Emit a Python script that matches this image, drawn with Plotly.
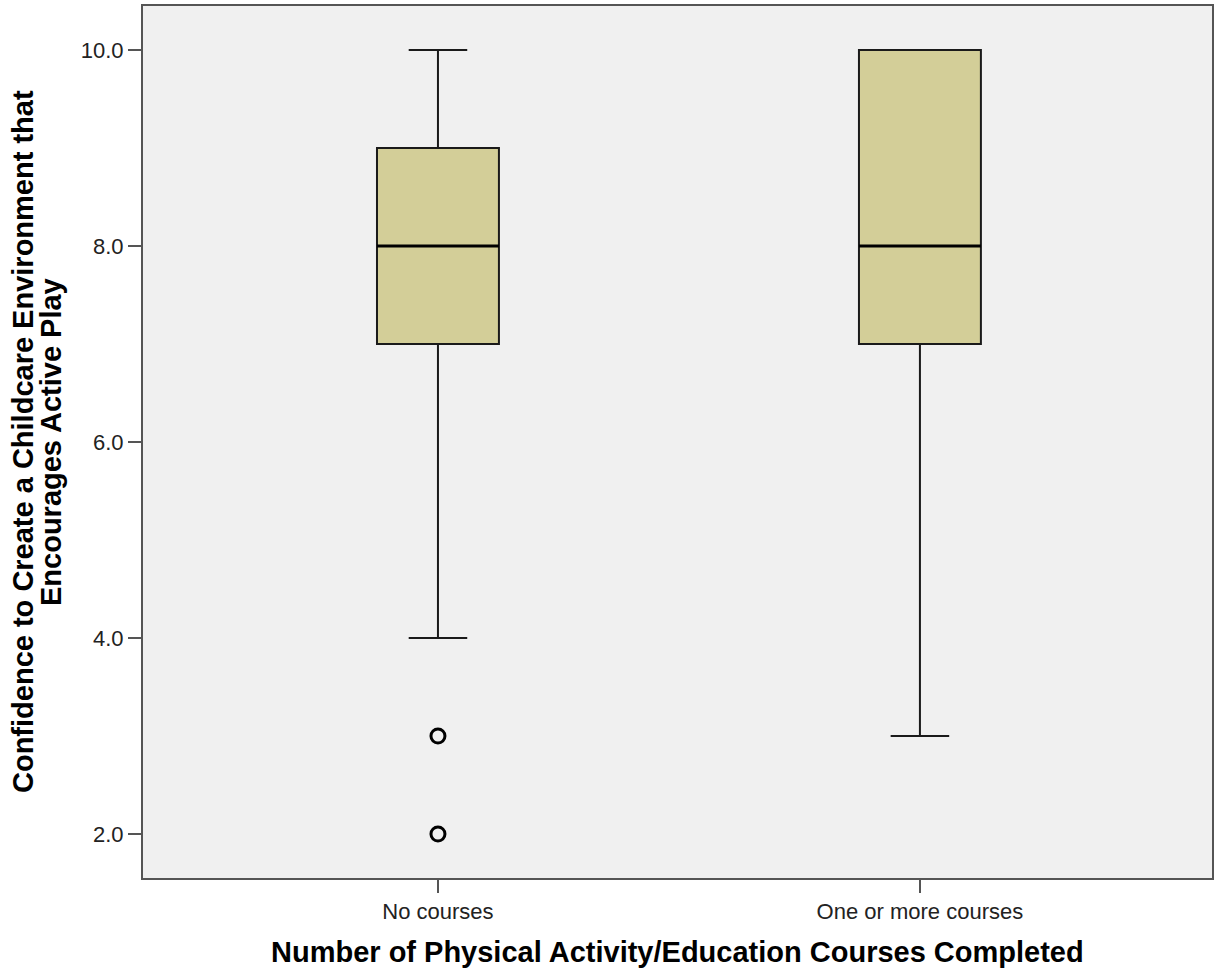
import plotly.graph_objects as go

categories = ["No courses", "One or more courses"]
lower_whisker = [4, 3]
q1_vals = [7, 7]
median_vals = [8, 8]
q3_vals = [9, 10]
upper_whisker = [10, 10]
outlier_cats = ["No courses", "No courses"]
outlier_vals = [3, 2]
y_ticks = [2, 4, 6, 8, 10]

fig = go.Figure()
for i, c in enumerate(categories):
    fig.add_trace(go.Box(
        x=[c], q1=[q1_vals[i]], median=[median_vals[i]], q3=[q3_vals[i]],
        lowerfence=[lower_whisker[i]], upperfence=[upper_whisker[i]],
        width=0.253, whiskerwidth=0.48,
        fillcolor="#D3CE98", line=dict(color="#1a1a1a", width=2),
        boxpoints=False, showlegend=False, hoverinfo="skip",
    ))
    # thicker median line overlay
    fig.add_trace(go.Box(
        x=[c], q1=[median_vals[i]], median=[median_vals[i]], q3=[median_vals[i]],
        lowerfence=[median_vals[i]], upperfence=[median_vals[i]],
        width=0.253, whiskerwidth=0,
        fillcolor="rgba(0,0,0,0)", line=dict(color="#000000", width=3),
        boxpoints=False, showlegend=False, hoverinfo="skip",
    ))

fig.add_trace(go.Scatter(
    x=outlier_cats, y=outlier_vals, mode="markers",
    marker=dict(symbol="circle-open", size=14, color="#000000", line=dict(width=3, color="#000000")),
    showlegend=False, hoverinfo="skip",
))

axis_common = dict(showline=True, mirror=True, linecolor="#555555", linewidth=2,
                   ticks="outside", ticklen=13, tickwidth=2, tickcolor="#555555",
                   showgrid=False, zeroline=False,
                   tickfont=dict(family="Liberation Sans, Arial, sans-serif", size=22, color="#222222"))

fig.update_xaxes(type="category", range=[-0.612, 1.606], categoryorder="array",
                 categoryarray=categories, **axis_common)
fig.update_yaxes(range=[1.551, 10.449], tickvals=y_ticks, tickformat=".1f", **axis_common)

title_font = dict(family="Liberation Sans, Arial, sans-serif", size=29, color="#000000")
fig.add_annotation(text="<b>Number of Physical Activity/Education Courses Completed</b>",
                   xref="paper", yref="paper", x=0.5, y=-0.0849, xanchor="center", yanchor="middle",
                   showarrow=False, font=title_font)
fig.add_annotation(text="<b>Confidence to Create a Childcare Environment that</b>",
                   xref="paper", yref="paper", x=(23 - 143) / 1069, y=0.5, xanchor="center", yanchor="middle",
                   textangle=-90, showarrow=False, font=title_font)
fig.add_annotation(text="<b>Encourages Active Play</b>",
                   xref="paper", yref="paper", x=(51 - 143) / 1069, y=0.5, xanchor="center", yanchor="middle",
                   textangle=-90, showarrow=False, font=title_font)

fig.update_layout(width=1217, height=972, margin=dict(l=143, r=5, t=6, b=94, autoexpand=False),
                  plot_bgcolor="#F0F0F0", paper_bgcolor="#FFFFFF", boxmode="overlay")

fig.write_html("out.html", config={"displayModeBar": False},
               post_script="document.body.style.margin='0';document.body.style.overflow='hidden';")
